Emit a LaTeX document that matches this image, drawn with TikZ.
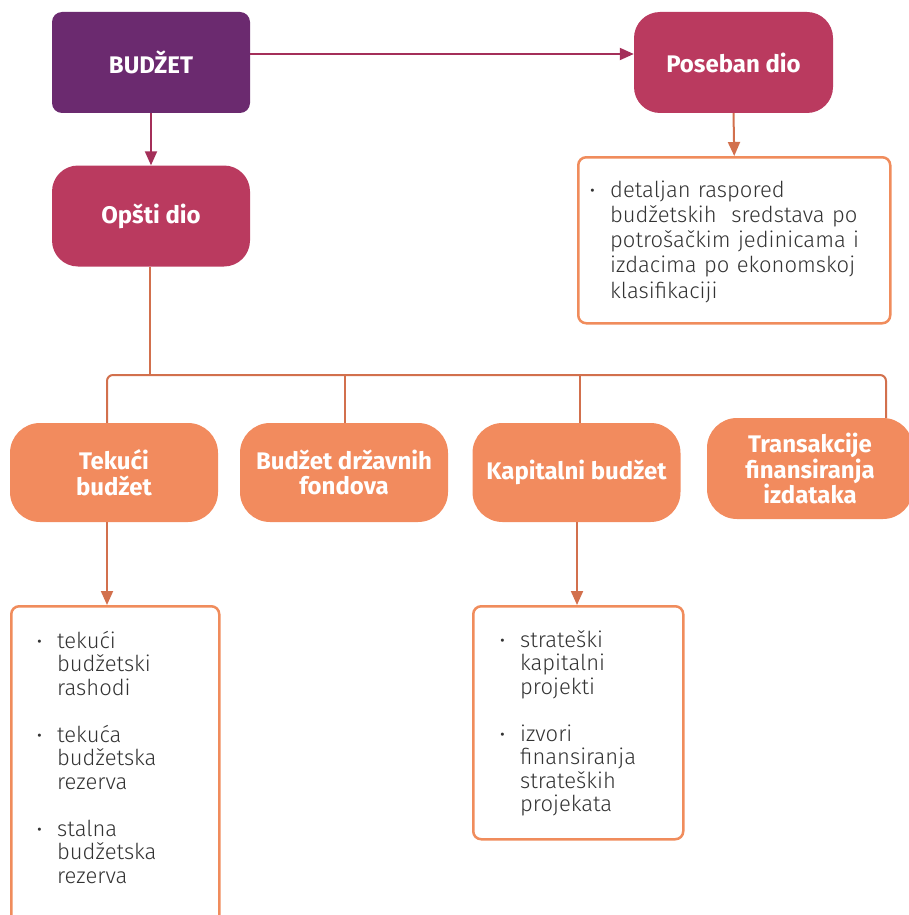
\documentclass[tikz,border=0pt]{standalone}
\usepackage{fontspec}
\setmainfont{Fira Sans}
\newfontfamily\listfont{Fira Sans Light}
\usetikzlibrary{arrows.meta,calc}
\definecolor{purp}{HTML}{6B2A6F}
\definecolor{crimson}{HTML}{BA3A5F}
\definecolor{orfill}{HTML}{F28B5E}
\definecolor{orline}{HTML}{F08C5C}
\definecolor{treeline}{HTML}{D2704D}
\definecolor{plink}{HTML}{A42F59}
\definecolor{txt}{HTML}{333333}
\begin{document}
\begin{tikzpicture}[x=1pt,y=-1pt,
  head/.style={inner sep=0pt, text=white, align=center,
    font=\bfseries\fontsize{24}{25.5}\selectfont},
  topbox/.style={head, minimum width=198pt, minimum height=101pt},
  orangebox/.style={head, fill=orfill, rounded corners=30pt,
    minimum width=208pt, minimum height=99pt},
  listbox/.style={draw=orline, line width=2.5pt, rounded corners=8pt,
    fill=white, inner sep=0pt, anchor=north west},
  listtext/.style={anchor=base west, inner sep=0pt, text width=280pt,
    align=left, text=txt, font=\listfont\fontsize{22}{23.5}\selectfont},
  link/.style={draw=treeline, line width=2pt},
  tipped/.style={-{Triangle[length=14pt,width=12pt]}}
]
\useasboundingbox (0,0) rectangle (909,915);
% bullet hung to the left of the item text
\newcommand{\bul}{\leavevmode\llap{{\rmfamily ·}\hspace{15pt}}}

% top level
\node[topbox, fill=purp, rounded corners=10pt] (budzet) at (151,62.5) {BUDŽET};
\node[topbox, fill=crimson, rounded corners=26pt] (opsti) at (151,216) {Opšti dio};
\node[topbox, fill=crimson, rounded corners=26pt, minimum width=199pt] (poseban) at (733.5,62.5) {Poseban dio};

% detail list of the special part
\node[listbox, minimum width=312pt, minimum height=166pt] (detail) at (577,156) {};
\node[listtext, font=\listfont\fontsize{22}{25.3}\selectfont] (detailtxt) at (610,197)
  {\bul detaljan raspored\\budžetskih\ \ sredstava po\\potrošačkim jedinicama i\\izdacima po ekonomskoj\\klasifikaciji};

% second level
\node[orangebox] (tekuci) at (114,472.5) {Tekući\\budžet};
\node[orangebox] (fondovi) at (344,472.5) {Budžet državnih\\fondova};
\node[orangebox] (kapital) at (576.5,472.5) {Kapitalni budžet};
\node[orangebox, minimum width=206pt, minimum height=101pt] (transak) at (810,468.5) {Transakcije\\finansiranja\\izdataka};

% lists below
\node[listbox, minimum width=208pt, minimum height=320pt] (teklist) at (10,605) {};
\node[listtext] (tektxt) at (57,648)
  {\bul tekući\\budžetski\\rashodi\\[23.5pt]\bul tekuća\\budžetska\\rezerva\\[23.5pt]\bul stalna\\budžetska\\rezerva};
\node[listbox, minimum width=210pt, minimum height=233pt] (kaplist) at (472,605) {};
\node[listtext] (kaptxt) at (520,647)
  {\bul strateški\\kapitalni\\projekti\\[23.5pt]\bul izvori\\finansiranja\\strateških\\projekata};

% connectors
\coordinate (hy) at (0,54);
\draw[plink, line width=2pt, tipped] (budzet.east |- hy) -- (poseban.west |- hy);
\draw[plink, line width=2pt, tipped] (budzet.south) -- (opsti.north);
\draw[link, tipped] (poseban.south) -- (detail.north);

\coordinate (bus) at (0,375);
\coordinate (xa) at (107,0);
\coordinate (xb) at (345,0);
\coordinate (xc) at (580,0);
\coordinate (xd) at (886,0);
\coordinate (xk) at (577,0);
\draw[link] (opsti.south -| 150,0) -- (bus -| 150,0);
\draw[link, rounded corners=6pt] (tekuci.north -| xa) -- (bus -| xa) -- (bus -| xd) -- (transak.north -| xd);
\draw[link] (bus -| xb) -- (fondovi.north -| xb);
\draw[link] (bus -| xc) -- (kapital.north -| xc);
\draw[link, tipped] (tekuci.south -| xa) -- (teklist.north -| xa);
\draw[link, tipped] (kapital.south -| xk) -- (kaplist.north -| xk);
\end{tikzpicture}
\end{document}
